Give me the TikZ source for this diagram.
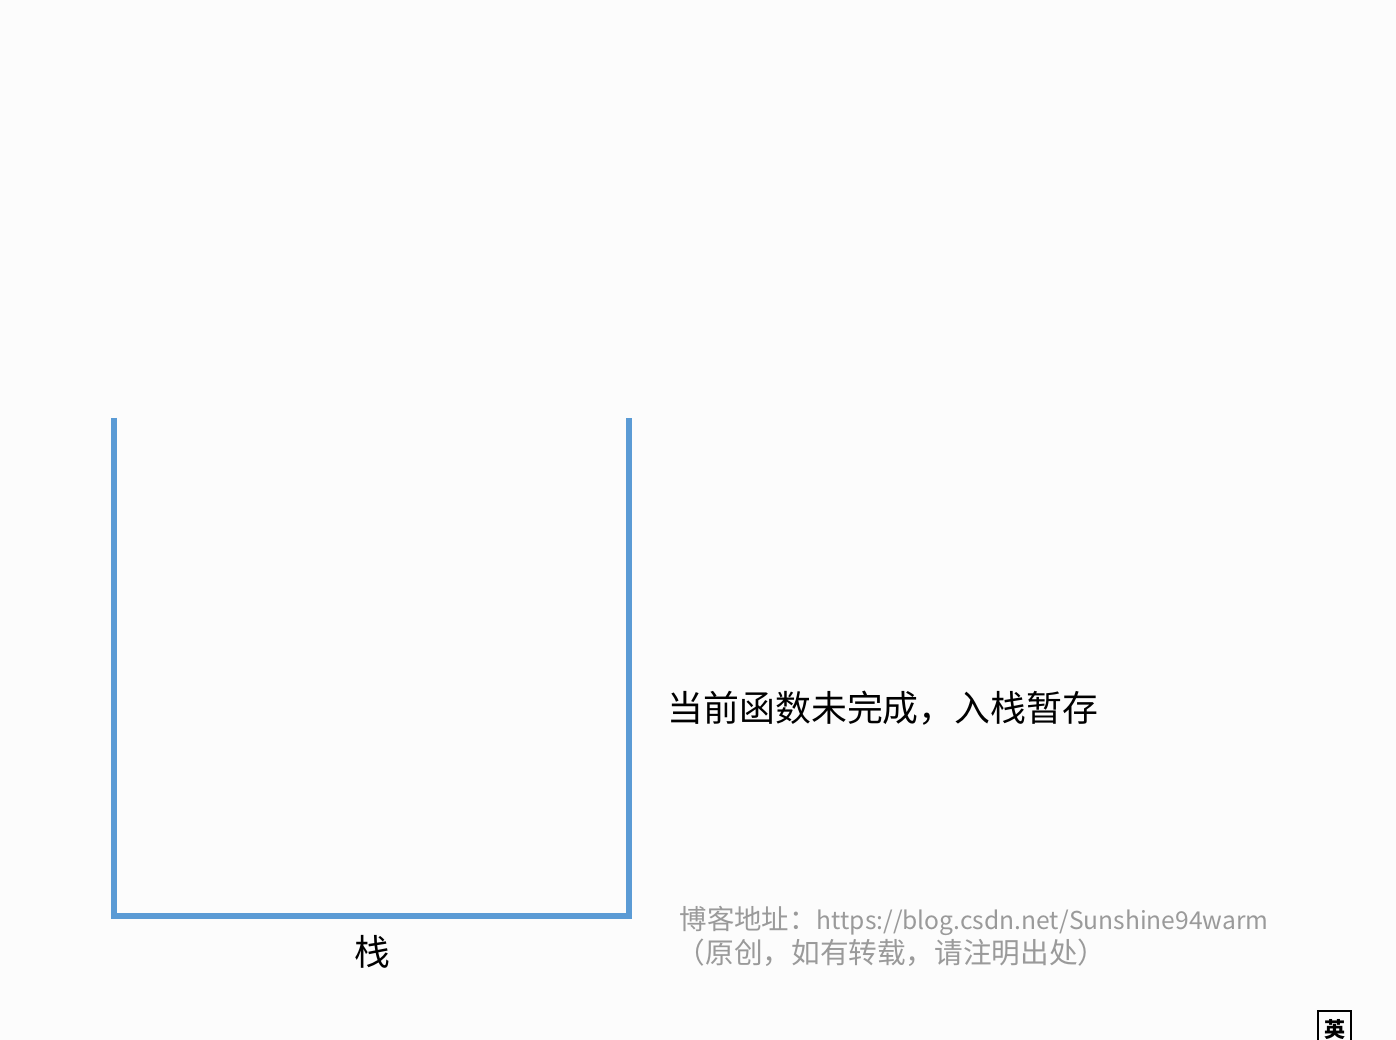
\documentclass[tikz,border=0pt]{standalone}
\usepackage{fontspec}
\usepackage{xcolor}
\usetikzlibrary{positioning,calc}
\newfontfamily\cjk{Noto Sans CJK SC}
\definecolor{stackblue}{HTML}{5B9BD5}
\definecolor{markgray}{HTML}{9A9A9A}
\definecolor{pagebg}{HTML}{FCFCFC}

\tikzset{
    wall/.style={draw=stackblue, line width=1.7pt},
    caption/.style={font=\cjk\fontsize{10.2pt}{12pt}\selectfont, inner sep=0pt},
    watermark/.style={font=\cjk\fontsize{7.8pt}{9.5pt}\selectfont, text=markgray, inner sep=0pt, anchor=west},
}

\begin{document}
\begin{tikzpicture}[x=0.01cm, y=-0.01cm]
    \fill[pagebg] (0,0) rectangle (1396,1040);
    \useasboundingbox (0,0) rectangle (1396,1040);
    % stack
    \draw[wall] (114,418) -- (114,916) -- (629,916) -- (629,418);
    \node[caption] (stacklabel) at (372,952) {栈};
    \node[caption, anchor=west] (msg) at (667,708) {当前函数未完成，入栈暂存};
    % blog mark
    \node[watermark] (blog) at (679,921) {博客地址：{\fontsize{7pt}{9.5pt}\selectfont https://blog.csdn.net/Sunshine94warm}};
    \node[watermark, font=\cjk\fontsize{8.15pt}{9.5pt}\selectfont] (note) at (676,953) {（原创，如有转载，请注明出处）};
    \node[draw, line width=0.7pt, minimum width=0.33cm, minimum height=0.36cm, anchor=north west,
          font=\cjk\bfseries\fontsize{6pt}{7pt}\selectfont, inner sep=1pt] (ime) at (1317,1010) {英};
\end{tikzpicture}
\end{document}
